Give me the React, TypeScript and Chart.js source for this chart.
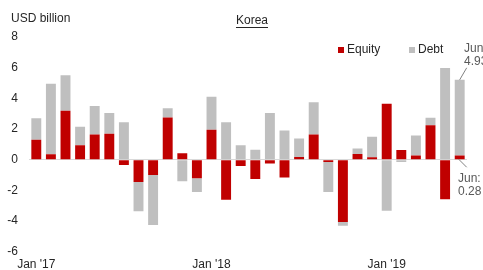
import { useEffect, useRef } from "react";
import { Chart, registerables } from "chart.js";

Chart.register(...registerables);

const months = [
  "Jan '17", "Feb '17", "Mar '17", "Apr '17", "May '17", "Jun '17",
  "Jul '17", "Aug '17", "Sep '17", "Oct '17", "Nov '17", "Dec '17",
  "Jan '18", "Feb '18", "Mar '18", "Apr '18", "May '18", "Jun '18",
  "Jul '18", "Aug '18", "Sep '18", "Oct '18", "Nov '18", "Dec '18",
  "Jan '19", "Feb '19", "Mar '19", "Apr '19", "May '19", "Jun '19",
];

const equity = [
  1.3, 0.35, 3.2, 0.95, 1.65, 1.7, -0.35, -1.45, -1.0, 2.75, 0.43, -1.2,
  1.95, -2.6, -0.4, -1.25, -0.25, -1.15, 0.18, 1.65, -0.15, -4.05, 0.37, 0.17,
  3.65, 0.63, 0.28, 2.24, -2.57, 0.28,
];

const debt = [
  1.4, 4.6, 2.3, 1.2, 1.85, 1.35, 2.45, -1.9, -3.25, 0.6, -1.4, -0.9,
  2.15, 2.45, 0.95, 0.65, 3.05, 1.9, 1.2, 2.1, -1.95, -0.25, 0.37, 1.33,
  -3.33, -0.15, 1.3, 0.5, 5.98, 4.93,
];

const yTicks = [-6, -4, -2, 0, 2, 4, 6, 8];

const RED = "#C00000";
const GRAY = "#BFBFBF";
const FONT = "'Liberation Sans', Arial, sans-serif";

const overlay = {
  id: "overlay",
  afterDraw(chart: any) {
    const ctx = chart.ctx;
    const area = chart.chartArea;
    ctx.save();
    ctx.font = `12px ${FONT}`;
    ctx.fillStyle = "#262626";
    ctx.textBaseline = "middle";
    ctx.textAlign = "left";
    ctx.fillText("USD billion", 11, 19);

    // title
    const cx = (area.left + area.right) / 2 + 4;
    ctx.textAlign = "center";
    ctx.fillText("Korea", cx, 21);
    const tw = ctx.measureText("Korea").width;
    ctx.strokeStyle = "#262626";
    ctx.lineWidth = 1;
    ctx.beginPath();
    ctx.moveTo(cx - tw / 2, 27.5);
    ctx.lineTo(cx + tw / 2, 27.5);
    ctx.stroke();

    // legend
    ctx.textAlign = "left";
    ctx.fillStyle = RED;
    ctx.fillRect(338, 47, 6, 6);
    ctx.fillStyle = "#262626";
    ctx.fillText("Equity", 347, 50);
    ctx.fillStyle = GRAY;
    ctx.fillRect(409, 47, 6, 6);
    ctx.fillStyle = "#262626";
    ctx.fillText("Debt", 418, 50);

    // annotations for last bar
    const metaE = chart.getDatasetMeta(0);
    const metaD = chart.getDatasetMeta(1);
    const last = months.length - 1;
    const be = metaE.data[last];
    const bd = metaD.data[last];
    ctx.strokeStyle = "#808080";
    ctx.lineWidth = 1;
    ctx.beginPath();
    ctx.moveTo(bd.x, bd.y);
    ctx.lineTo(bd.x + 7, bd.y - 12);
    ctx.stroke();
    ctx.beginPath();
    ctx.moveTo(be.x - 1, be.base);
    ctx.lineTo(be.x + 7, be.base + 8);
    ctx.stroke();

    ctx.fillStyle = "#595959";
    ctx.fillText("Jun:", 464, 49);
    ctx.fillText(debt[last].toFixed(2), 464, 62);
    ctx.fillText("Jun:", 458, 179);
    ctx.fillText(equity[last].toFixed(2), 458, 192);
    ctx.restore();
  },
};

export default function App() {
  const ref = useRef<HTMLCanvasElement>(null);

  useEffect(() => {
    if (!ref.current) return;
    const chart = new Chart(ref.current, {
      type: "bar",
      data: {
        labels: months,
        datasets: [
          {
            label: "Equity",
            data: equity,
            backgroundColor: RED,
            barPercentage: 0.68,
            categoryPercentage: 1,
          },
          {
            label: "Debt",
            data: debt,
            backgroundColor: GRAY,
            barPercentage: 0.68,
            categoryPercentage: 1,
          },
        ],
      },
      options: {
        responsive: false,
        animation: false,
        devicePixelRatio: 1,
        layout: { padding: { top: 37, left: 6, right: 16, bottom: 0 } },
        plugins: {
          legend: { display: false },
          title: { display: false },
          tooltip: { enabled: false },
        },
        scales: {
          x: {
            stacked: true,
            grid: { display: false, drawTicks: false },
            border: { display: false },
            ticks: {
              autoSkip: false,
              maxRotation: 0,
              minRotation: 0,
              padding: 6,
              color: "#262626",
              font: { family: FONT, size: 12 },
              callback: (_v: any, i: number) =>
                months[i].startsWith("Jan") ? months[i] : "",
            },
            afterFit: (s: any) => {
              s.height = 18;
            },
          },
          y: {
            stacked: true,
            min: yTicks[0],
            max: yTicks[yTicks.length - 1],
            afterBuildTicks: (s: any) => {
              s.ticks = yTicks.map((v) => ({ value: v }));
            },
            grid: {
              drawTicks: false,
              color: (c: any) => (c.tick && c.tick.value === 0 ? "#D9D9D9" : "rgba(0,0,0,0)"),
              lineWidth: 1,
            },
            border: { display: false },
            ticks: {
              padding: 11,
              color: "#262626",
              font: { family: FONT, size: 12 },
            },
            afterFit: (s: any) => {
              s.width = 23;
            },
          },
        },
      },
      plugins: [overlay],
    });
    return () => chart.destroy();
  }, []);

  return (
    <div style={{ position: "fixed", left: 0, top: 0, width: 483, height: 270, background: "#fff" }}>
      <canvas ref={ref} width={483} height={270} />
    </div>
  );
}
